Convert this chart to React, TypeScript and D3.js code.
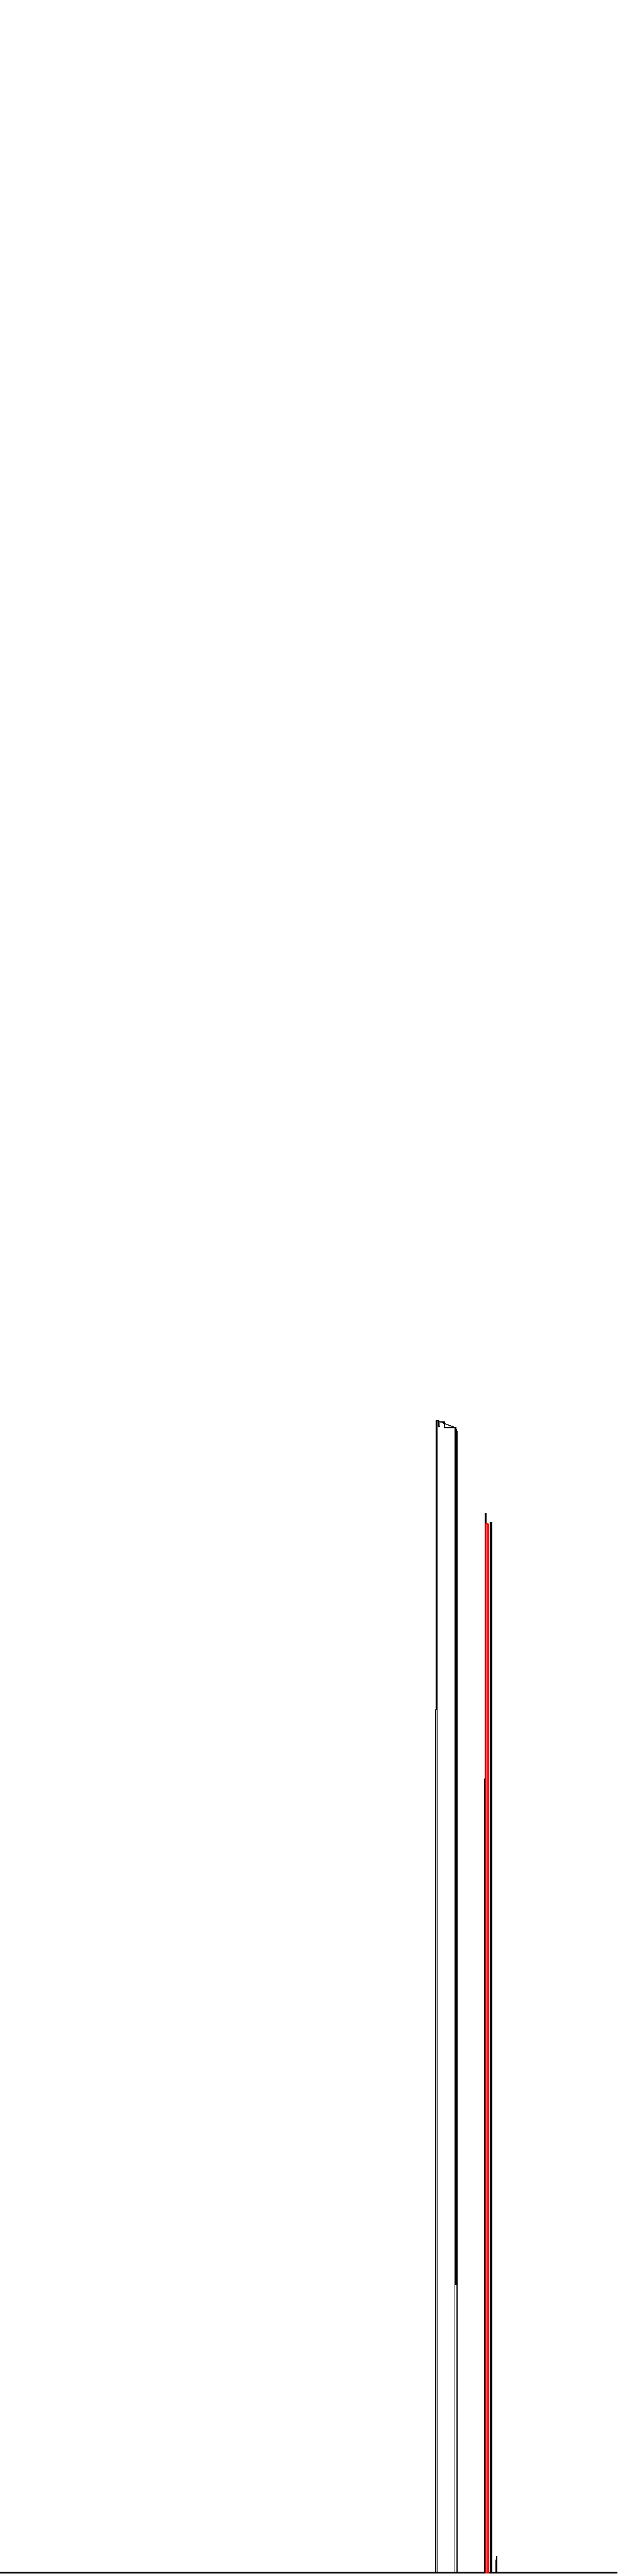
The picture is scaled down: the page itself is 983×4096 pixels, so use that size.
import React, { useEffect, useRef } from "react";
import * as d3 from "d3";

// values: x position and height above the baseline (reference px)
const blackX = [
  0, 1016.3, 1016.3, 1017.8, 1017.8, 1023, 1023, 1026, 1026, 1037, 1037, 1061, 1061,
  1020, 1020, 1061, 1064, 1064, 1065.8, 1065.8, 1065.8, 1063.2, 1063.2, 1065.8,
  1065.8, 1130.5, 1130.5, 1132, 1132, 1134, 1134, 1133.5, 1133.5, 1143.8, 1143.8,
  1146.7, 1146.7, 1145.2, 1145.2, 1146.7, 1146.7, 1156.8, 1156.8, 1158, 1158,
  1159.2, 1159.2, 1440,
];
const blackH = [
  0, 0, 2012, 2012, 2686, 2686, 2673, 2673, 2683, 2683, 2670, 2670, 0,
  0, 2686, 2670, 2670, 2662, 2662, 0, 673, 673, 2670, 2662,
  0, 0, 1851, 1851, 2469, 2469, 2465, 2465, 0, 0, 2449,
  2449, 0, 610, 2449, 2449, 0, 0, 29, 29, 39,
  29, 0, 0,
];

const redX = [1140, 1133.3, 1133.3, 1138, 1138, 1140, 1140, 1138];
const redH = [0, 0, 2446, 2446, 0, 0, 2444, 2444];

const width = 983;
const height = 4092;
const k = 0.682;

const App = () => {
  const svgRef = useRef<SVGSVGElement>(null);

  useEffect(() => {
    const svg = d3.select(svgRef.current);
    svg.selectAll("*").remove();

    const x = d3.scaleLinear().domain([0, 1440]).range([0, 1440 * k]);
    const y = d3.scaleLinear().domain([0, 5998.3]).range([5998.3 * k, 0]);

    svg
      .append("rect")
      .attr("width", width)
      .attr("height", height)
      .attr("fill", "#ffffff");

    const blackPts: [number, number][] = blackX.map((v, i) => [v, blackH[i]]);
    const redPts: [number, number][] = redX.map((v, i) => [v, redH[i]]);

    const path = d3
      .line<[number, number]>()
      .x((d) => x(d[0]))
      .y((d) => y(d[1]));

    // baseline
    svg
      .append("line")
      .attr("x1", x(0))
      .attr("x2", x(1440))
      .attr("y1", y(0))
      .attr("y2", y(0))
      .attr("stroke", "#000")
      .attr("stroke-width", 2.3);

    svg
      .append("path")
      .attr("d", path(blackPts))
      .attr("fill", "none")
      .attr("stroke", "#000")
      .attr("stroke-width", 1.5)
      .attr("shape-rendering", "crispEdges");

    svg
      .append("path")
      .attr("d", path(redPts))
      .attr("fill", "none")
      .attr("stroke", "#ff0000")
      .attr("stroke-width", 1.8)
      .attr("shape-rendering", "crispEdges");
  }, []);

  return (
    <svg
      ref={svgRef}
      width={width}
      height={height}
      style={{ position: "absolute", left: 0, top: 0, display: "block" }}
    />
  );
};

export default App;
